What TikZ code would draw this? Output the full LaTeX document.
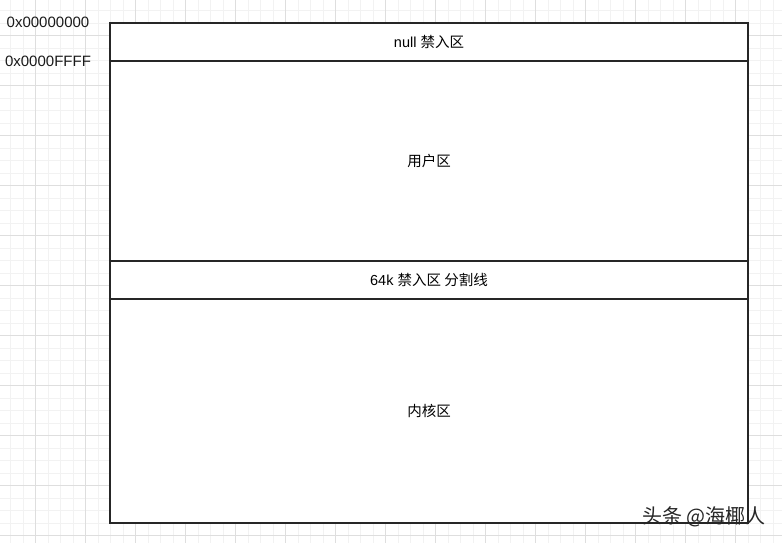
\documentclass[tikz,border=0pt]{standalone}
\usepackage{fontspec}
\setmainfont{Liberation Sans}
\newfontfamily\cjk{Noto Sans CJK SC}
\usetikzlibrary{positioning}
\begin{document}
\begin{tikzpicture}[x=1pt, y=-1pt,
		gridminor/.style={draw=black!5, line width=0.8pt},
		gridmajor/.style={draw=black!13, line width=0.8pt},
		zone/.style={draw=black!85, fill=white, line width=1.2pt, minimum width=638pt,
			inner sep=0pt, font=\fontsize{14.5}{16}\selectfont},
		addr/.style={inner sep=0pt, text=black!90, font=\fontsize{15}{17}\selectfont}]
		\useasboundingbox (0,0) rectangle (782,543);

		% background grid
		\foreach \k in {0,...,61} \draw[gridminor] (10.7+12.5*\k,0) -- (10.7+12.5*\k,543);
		\foreach \k in {0,...,42} \draw[gridminor] (0,10.7+12.5*\k) -- (782,10.7+12.5*\k);
		\foreach \k in {0,...,14} \draw[gridmajor] (35.7+50*\k,0) -- (35.7+50*\k,543);
		\foreach \k in {0,...,10} \draw[gridmajor] (0,35.7+50*\k) -- (782,35.7+50*\k);

		% memory zones
		\node[zone, minimum height=224pt] (kernel) at (429,411) {{\cjk 内核区}};
		\node[zone, minimum height=38pt] (guard) at (429,280) {64k {\cjk 禁入区 分割线}};
		\node[zone, minimum height=200pt] (user) at (429,161) {{\cjk 用户区}};
		\node[zone, minimum height=38pt] (null) at (429,42) {null {\cjk 禁入区}};

		% addresses
		\node[addr] (start) at (48,22) {0x00000000};
		\node[addr] (end) at (48,61) {0x0000FFFF};

		\node[text=black!85, inner sep=0pt, font=\cjk\fontsize{20}{22}\selectfont] (mark) at (704,517) {头条 @海椰人};
	\end{tikzpicture}
\end{document}
